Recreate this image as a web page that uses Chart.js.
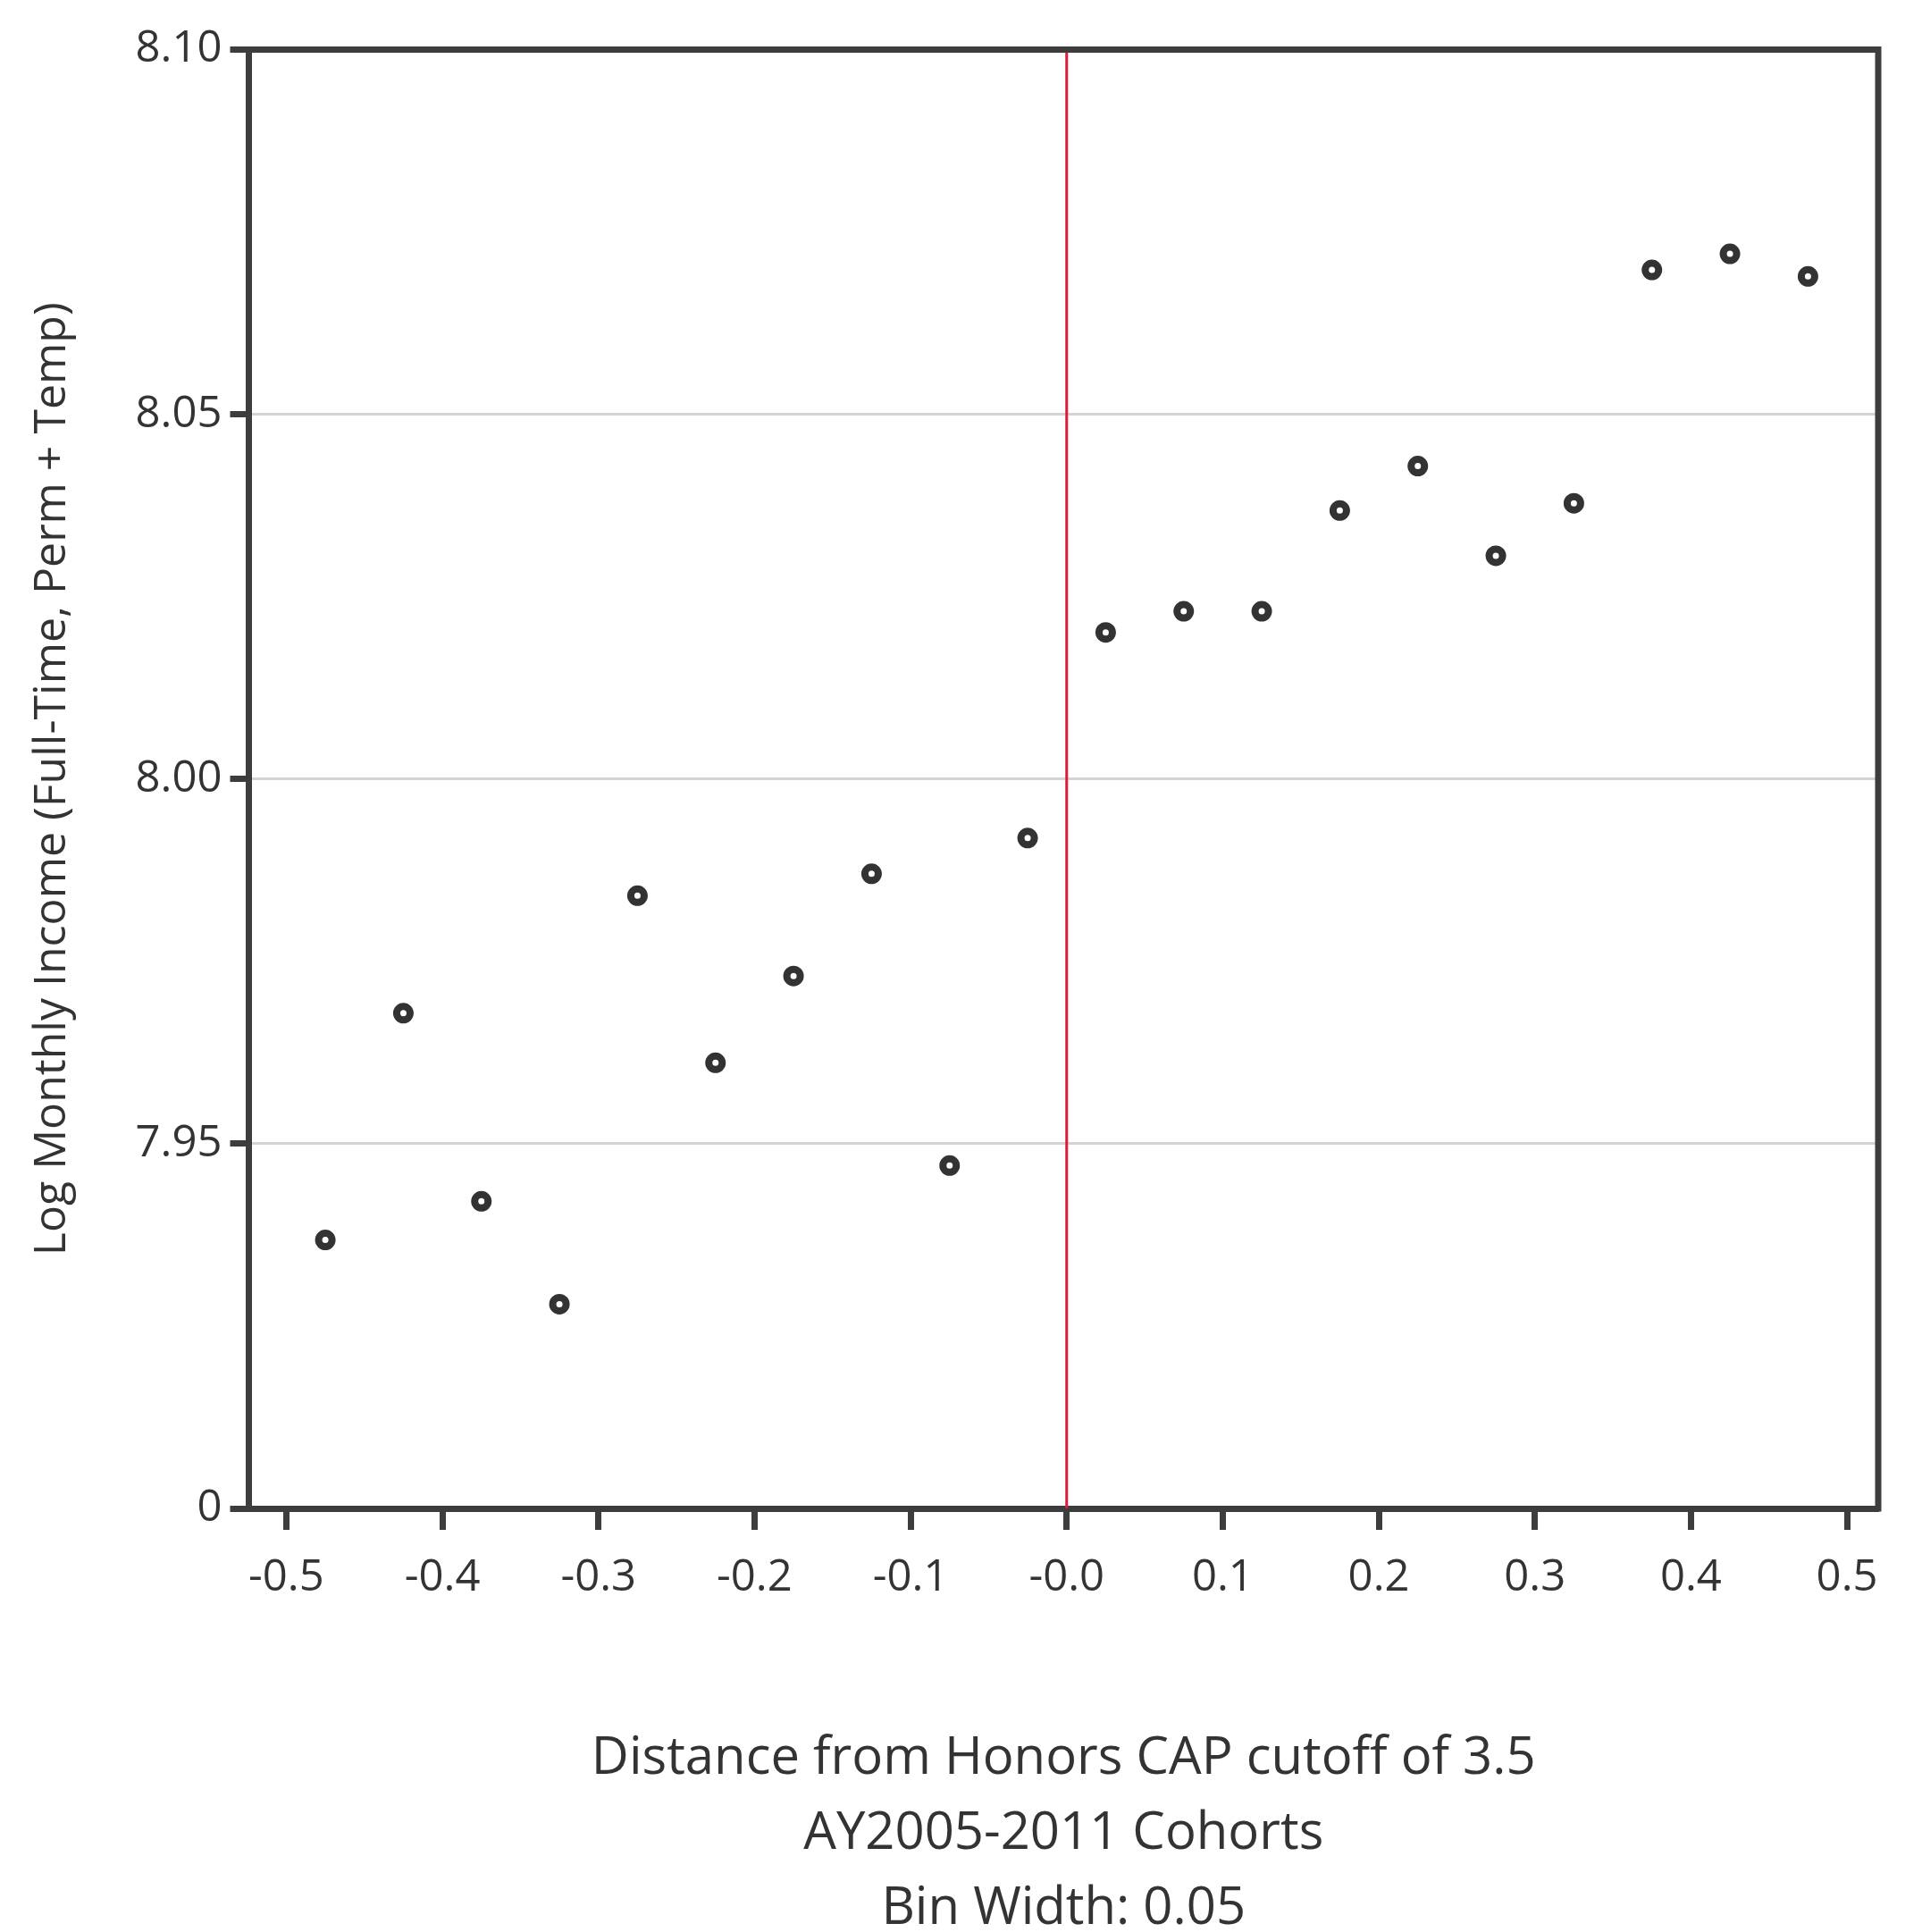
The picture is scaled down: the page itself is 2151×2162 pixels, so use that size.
<!DOCTYPE html>
<html>
<head>
<meta charset="utf-8">
<script src="https://cdn.jsdelivr.net/npm/chart.js@4/dist/chart.umd.min.js"></script>
<style>
  html, body { margin: 0; padding: 0; background: #ffffff; }
  #wrap { width: 2151px; height: 2162px; }
</style>
</head>
<body>
<div id="wrap"><canvas id="c" width="2151" height="2162"></canvas></div>
<script>
// ---- data ----
const binCenters = [-0.475, -0.425, -0.375, -0.325, -0.275, -0.225, -0.175, -0.125, -0.075, -0.025,
                    0.025, 0.075, 0.125, 0.175, 0.225, 0.275, 0.325, 0.375, 0.425, 0.475];
const logIncome = [7.9368, 7.9679, 7.9421, 7.9280, 7.9840, 7.9611, 7.9730, 7.9870, 7.9470, 7.9919,
                   8.0201, 8.0230, 8.0230, 8.0368, 8.0429, 8.0306, 8.0378, 8.0698, 8.0720, 8.0689];
const cutoffX = [0, 0];
const cutoffY = [7.90, 8.10];
const xTickValues = [-0.5, -0.4, -0.3, -0.2, -0.1, 0, 0.1, 0.2, 0.3, 0.4, 0.5];
const xTickLabels = ['-0.5', '-0.4', '-0.3', '-0.2', '-0.1', '-0.0', '0.1', '0.2', '0.3', '0.4', '0.5'];
const yTickValues = [7.90, 7.95, 8.00, 8.05, 8.10];
const yTickLabels = ['0', '7.95', '8.00', '8.05', '8.10'];
const xTitle = ['Distance from Honors CAP cutoff of 3.5', 'AY2005-2011 Cohorts', 'Bin Width: 0.05'];
const yTitle = 'Log Monthly Income (Full-Time, Perm + Temp)';

const FONT = "'Open Sans', 'Noto Sans', sans-serif";
const TEXT = '#333333';
const AXIS = '#3d3d3d';

const framePlugin = {
  id: 'frame',
  afterDraw(chart) {
    const {ctx, chartArea: a} = chart;
    ctx.save();
    ctx.strokeStyle = AXIS;
    ctx.lineWidth = 7;
    ctx.lineCap = 'square';
    ctx.beginPath();
    ctx.moveTo(a.left, a.top);
    ctx.lineTo(a.right, a.top);
    ctx.lineTo(a.right, a.bottom);
    ctx.stroke();
    ctx.restore();
  }
};

new Chart(document.getElementById('c'), {
  type: 'scatter',
  data: {
    datasets: [
      {
        type: 'scatter',
        data: binCenters.map((x, i) => ({x: x, y: logIncome[i]})),
        pointRadius: 7.5,
        pointHoverRadius: 7.5,
        borderWidth: 8,
        borderColor: '#333333',
        backgroundColor: '#ffffff',
        order: 1
      },
      {
        type: 'line',
        data: cutoffX.map((x, i) => ({x: x, y: cutoffY[i]})),
        borderColor: '#e3193b',
        borderWidth: 3,
        pointRadius: 0,
        fill: false,
        order: 2
      }
    ]
  },
  options: {
    responsive: false,
    animation: false,
    devicePixelRatio: 1,
    layout: { padding: { left: 0, top: 55.5, right: 49, bottom: 0 } },
    plugins: { legend: { display: false }, tooltip: { enabled: false } },
    scales: {
      x: {
        type: 'linear',
        min: -0.524,
        max: 0.52,
        afterFit(scale) { scale.height = 2162 - 1688; },
        afterBuildTicks(scale) { scale.ticks = xTickValues.map(v => ({value: v})); },
        ticks: {
          color: TEXT,
          font: { family: FONT, size: 49 },
          padding: 25,
          maxRotation: 0,
          autoSkip: false,
          callback: (v, i) => xTickLabels[i]
        },
        grid: {
          drawOnChartArea: false,
          drawTicks: true,
          tickLength: 24,
          tickColor: AXIS,
          tickWidth: 7
        },
        border: { display: true, color: AXIS, width: 7 },
        title: {
          display: true,
          text: xTitle,
          color: TEXT,
          font: { family: FONT, size: 58, lineHeight: 1.45 },
          padding: { top: 0, bottom: -17 }
        }
      },
      y: {
        type: 'linear',
        min: 7.90,
        max: 8.10,
        afterFit(scale) { scale.width = 278.5; },
        afterBuildTicks(scale) { scale.ticks = yTickValues.map(v => ({value: v})); },
        ticks: {
          color: TEXT,
          font: { family: FONT, size: 49 },
          padding: 9,
          autoSkip: false,
          callback: (v, i) => yTickLabels[i]
        },
        grid: {
          color: '#d4d4d4',
          lineWidth: 3,
          drawTicks: true,
          tickLength: 21,
          tickColor: AXIS,
          tickWidth: 7
        },
        border: { display: true, color: AXIS, width: 7 },
        title: {
          display: true,
          text: yTitle,
          color: TEXT,
          font: { family: FONT, size: 50, lineHeight: 1.2 },
          padding: { top: 29, bottom: 0 }
        }
      }
    }
  },
  plugins: [framePlugin]
});
</script>
</body>
</html>
